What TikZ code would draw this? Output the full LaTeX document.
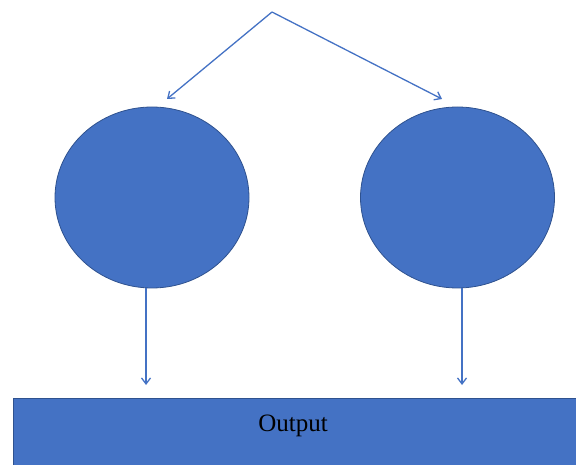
\documentclass[tikz,border=0pt]{standalone}
\usepackage{fontspec}
\setmainfont{Liberation Serif}
\usetikzlibrary{arrows.meta,shapes.geometric}
\definecolor{boxblue}{HTML}{4472C4}
\definecolor{edgeblue}{HTML}{2F528F}
\tikzset{
  blob/.style={ellipse, fill=boxblue, draw=edgeblue, line width=0.8pt,
    minimum width=194pt, minimum height=181pt, inner sep=0pt},
  flow/.style={draw=boxblue, line width=1.3pt,
    -{Straight Barb[length=6pt,width=9pt,line width=1.3pt]}},
  outbox/.style={fill=boxblue, draw=edgeblue, line width=0.8pt}
}
\begin{document}
\begin{tikzpicture}[x=1pt,y=-1pt]
  \useasboundingbox (0,0) rectangle (576,465);
  % two processing units
  \node[blob] (left)  at (152,197.5) {};
  \node[blob] (right) at (457.5,197.5) {};
  % output bar, running off the right and bottom edges
  \path[outbox] (13,398) rectangle (600,490);
  \node[font=\fontsize{25}{30}\selectfont, inner sep=0pt, anchor=base] (out) at (293,431) {Output};
  % connector end points
  \coordinate (top) at (272,12);
  \coordinate (lin) at (167,99);
  \coordinate (rin) at (442,99);
  \coordinate (lfoot) at (146,288);
  \coordinate (rfoot) at (462,288);
  \coordinate (lout) at (146,385);
  \coordinate (rout) at (462,385);
  \draw[flow] (top) -- (lin);
  \draw[flow] (top) -- (rin);
  \draw[flow] (lfoot) -- (lout);
  \draw[flow] (rfoot) -- (rout);
\end{tikzpicture}
\end{document}
